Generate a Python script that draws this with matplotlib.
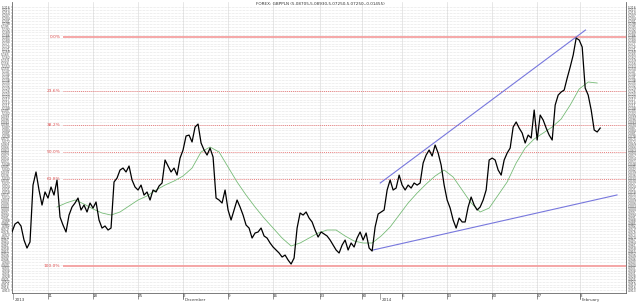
import numpy as np
import matplotlib
matplotlib.use("Agg")
import matplotlib.pyplot as plt
from matplotlib.transforms import blended_transform_factory

# price series, 3 bars per trading day, starting Nov 7 2013
price = [
    4.9754, 4.9839, 4.9861, 4.9818, 4.9668, 4.9582, 4.9647, 5.0256, 5.0396, 5.0203,
    5.0042, 5.0182, 5.0117, 5.0235, 5.0149, 5.0310, 4.9914, 4.9828, 4.9754, 4.9935,
    5.0021, 5.0064, 5.0117, 4.9989, 5.0042, 4.9968, 5.0064, 5.0010, 5.0075, 4.9882,
    4.9796, 4.9818, 4.9775, 4.9796, 5.0289, 5.0331, 5.0417, 5.0438, 5.0396, 5.0460,
    5.0310, 5.0235, 5.0203, 5.0256, 5.0149, 5.0182, 5.0096, 5.0203, 5.0182, 5.0246,
    5.0278, 5.0524, 5.0460, 5.0396, 5.0438, 5.0363, 5.0545, 5.0631, 5.0781, 5.0791,
    5.0717, 5.0877, 5.0909, 5.0706, 5.0631, 5.0577, 5.0652, 5.0556, 5.0117, 5.0096,
    5.0064, 5.0203, 4.9989, 4.9882, 4.9989, 5.0096, 5.0021, 4.9935, 4.9828, 4.9796,
    4.9689, 4.9743, 4.9754, 4.9796, 4.9711, 4.9689, 4.9636, 4.9593, 4.9561, 4.9529,
    4.9486, 4.9507, 4.9454, 4.9411, 4.9475, 4.9796, 4.9957, 4.9935, 4.9968, 4.9903,
    4.9861, 4.9775, 4.9700, 4.9754, 4.9732, 4.9711, 4.9668, 4.9614, 4.9561, 4.9529,
    4.9614, 4.9668, 4.9561, 4.9636, 4.9593, 4.9689, 4.9754, 4.9668, 4.9743, 4.9582,
    4.9550, 4.9807, 4.9946, 4.9968, 4.9989, 5.0203, 5.0310, 5.0203, 5.0224, 5.0363,
    5.0256, 5.0203, 5.0256, 5.0224, 5.0278, 5.0256, 5.0278, 5.0492, 5.0577, 5.0631,
    5.0567, 5.0684, 5.0599, 5.0470, 5.0256, 5.0096, 5.0010, 4.9882, 4.9796, 4.9903,
    4.9861, 4.9861, 5.0021, 5.0128, 5.0042, 4.9989, 5.0021, 5.0096, 5.0203, 5.0524,
    5.0545, 5.0524, 5.0417, 5.0363, 5.0524, 5.0599, 5.0652, 5.0877, 5.0931, 5.0866,
    5.0813, 5.0706, 5.0791, 5.0759, 5.1059, 5.0738, 5.1005, 5.0952, 5.0866, 5.0791,
    5.0738, 5.1112, 5.1219, 5.1252, 5.1273, 5.1401, 5.1519, 5.1647, 5.1829, 5.1808,
    5.1733, 5.1294, 5.1219, 5.1059, 5.0845, 5.0824, 5.0866,
]

# moving average, one value per trading day, from day 5
ma_start = 5
ma = [
    5.0021, 5.0064, 5.0096, 5.0053, 5.0000, 4.9957, 4.9935, 4.9968, 5.0032, 5.0096,
    5.0139, 5.0203, 5.0256, 5.0299, 5.0353, 5.0438, 5.0610, 5.0663, 5.0610, 5.0449,
    5.0289, 5.0149, 5.0021, 4.9903, 4.9796, 4.9689, 4.9604, 4.9636, 4.9689, 4.9743,
    4.9775, 4.9775, 4.9711, 4.9657, 4.9636, 4.9636, 4.9711, 4.9807, 4.9935, 5.0064,
    5.0171, 5.0267, 5.0353, 5.0417, 5.0342, 5.0203, 5.0064, 4.9968, 5.0010, 5.0149,
    5.0289, 5.0492, 5.0652, 5.0749, 5.0813, 5.0877, 5.0963, 5.1112, 5.1284, 5.1359,
    5.1348,
]

# trend lines (day, price)
upper_x = [40.9, 63.7]
upper_y = [5.0278, 5.1915]
lower_x = [40.1, 67.2]
lower_y = [4.9561, 5.0150]

# fibonacci retracement
fib_high = 5.184
fib_low = 4.939
fib_ratios = [0.0, 0.236, 0.382, 0.5, 0.618, 1.0]
fib_labels = ["0.0%", "23.6%", "38.2%", "50.0%", "61.8%", "100.0%"]
fib_start = 5.67

# x axis (trading days)
week_pos = [4, 9, 14, 19, 24, 29, 34.2, 38.9, 43.3, 48.3, 53.3, 58.3, 63.1]
week_lbl = ["11", "18", "25", "2", "9", "16", "23", "30", "6", "13", "20", "27", "3"]
period_pos = [0.1, 19, 40.9, 63.1]
period_lbl = ["2013", "December", "2014", "February"]

title = "FOREX: GBPPLN (5.08705,5.08930,5.07250,5.07250,-0.01455)"

fig = plt.figure(figsize=(6.4, 3.02), dpi=100)
ax = fig.add_axes([12 / 640, 9 / 302, 614 / 640, 291 / 302])

x = np.arange(len(price)) / 3.0
ax.plot(x, price, color="black", lw=0.9, zorder=5)

ma_x = ma_start + np.arange(len(ma))
ax.plot(ma_x, ma, color="#77bb77", lw=0.6, zorder=4)

ax.plot(upper_x, upper_y, color="#7777dd", lw=0.8, zorder=3)
ax.plot(lower_x, lower_y, color="#7777dd", lw=0.8, zorder=3)

xmax = 68.2
for r, lbl in zip(fib_ratios, fib_labels):
    lvl = fib_high - r * (fib_high - fib_low)
    if r in (0.0, 1.0):
        ax.hlines(lvl, fib_start, xmax, color="#f4a0a0", lw=1.3, zorder=2)
    else:
        ax.hlines(lvl, fib_start, xmax, color="#e88080", lw=0.7,
                  linestyles=(0, (1, 1)), zorder=2)
    ax.text(fib_start - 0.3, lvl, lbl, color="#e05050", fontsize=3.2,
            ha="right", va="center")

yt = 5.216 - 0.003 * np.arange(102)
ax.set_yticks(yt)
ax.set_yticklabels(["%.3f" % v for v in yt], fontsize=2.2)
ax.tick_params(axis="y", left=True, right=True, labelleft=True, labelright=True,
               length=1, width=0.3, pad=0.4, colors="#444444")
ax.set_ylim(4.9101, 5.2215)
ax.set_xlim(0, xmax)

ax.set_xticks(week_pos)
ax.set_xticklabels(week_lbl, fontsize=3, ha="left")
ax.tick_params(axis="x", length=4, width=0.4, pad=-3.5, colors="#444444")
trans = blended_transform_factory(ax.transData, ax.transAxes)
for p, lbl in zip(period_pos, period_lbl):
    ax.text(p + 0.15, -0.018, lbl, transform=trans, fontsize=3, ha="left",
            va="top", color="#444444")
    ax.plot([p, p], [0, -0.02], transform=trans, color="#666666", lw=0.4,
            clip_on=False)

ax.grid(axis="y", color="#cccccc", lw=0.4, linestyle=(0, (1, 1.5)))
ax.grid(axis="x", color="#dddddd", lw=0.5, linestyle="-")
ax.set_axisbelow(True)

for s in ["left", "right", "bottom"]:
    ax.spines[s].set_color("#666666")
    ax.spines[s].set_linewidth(0.6)
ax.spines["top"].set_visible(False)

fig.text(0.5, 0.995, title, fontsize=3, ha="center", va="top", color="#333333")

fig.savefig("out.png", dpi=100)
